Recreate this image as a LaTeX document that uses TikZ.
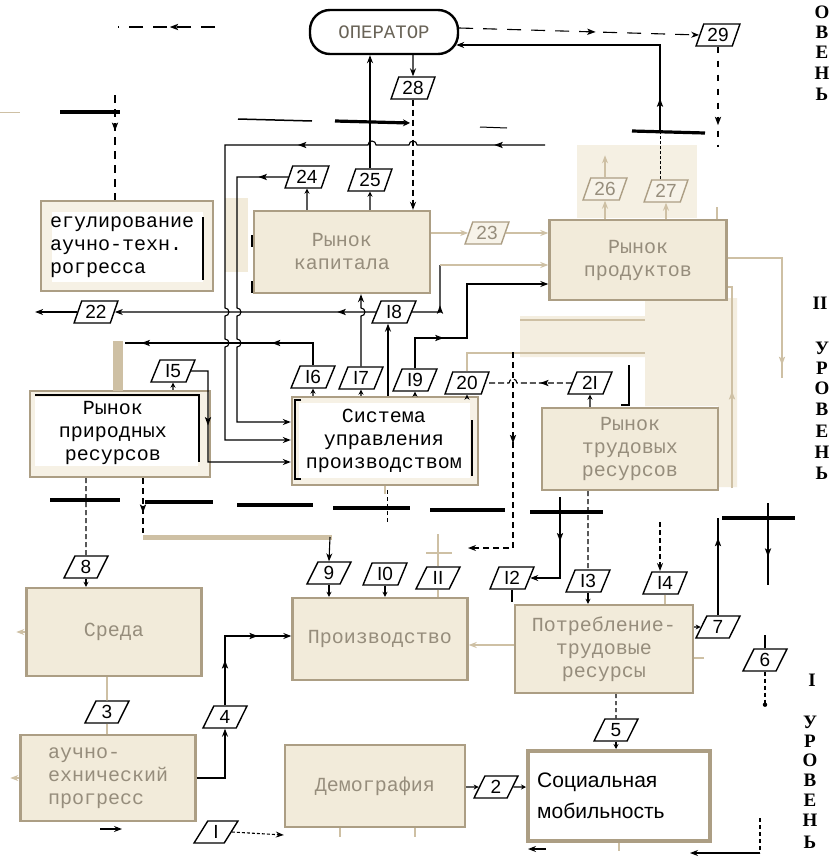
\documentclass[tikz,border=0pt]{standalone}
\usepackage{fontspec}
\setmainfont{Liberation Serif}
\newfontfamily\boxfont{Liberation Mono}
\newfontfamily\numfont{Liberation Sans}
\newfontfamily\sansfont{Liberation Sans}
\usetikzlibrary{shapes.geometric,arrows.meta,decorations.markings}

\definecolor{bg}{RGB}{242,235,218}
\definecolor{bd}{RGB}{172,158,132}
\definecolor{ft}{RGB}{150,141,124}
\definecolor{bl}{RGB}{206,192,164}

\tikzset{
  >={Stealth[length=8pt,width=6pt]},
  sa/.style={-{Stealth[length=5pt,width=5pt]}},
  ln/.style={line width=1.1pt, black},
  bln/.style={line width=1.6pt, bl},
  sepbar/.style={line width=3.2pt, black},
  ma/.style={postaction={decorate,decoration={markings,mark=at position #1 with {\fill[solid] (4.5pt,0pt) -- (-4pt,3.2pt) -- (-2pt,0pt) -- (-4pt,-3.2pt) -- cycle;}}}},
  ma/.default=0.5,
  fbox/.style={draw=bd, fill=bg, line width=2.4pt, font=\boxfont\fontsize{20}{23}\selectfont, text=ft, align=center},
  wtext/.style={font=\boxfont\fontsize{20}{23}\selectfont, text=black, inner sep=0pt},
  lab/.style={trapezium, trapezium left angle=68, trapezium right angle=112, trapezium stretches=true, draw, line width=1.4pt, fill=white, minimum width=44pt, minimum height=22pt, inner sep=1pt, font=\numfont\fontsize{19}{19}\selectfont},
  labf/.style={lab, draw=bd, fill=bg!60, text=ft},
  lvl/.style={font=\bfseries\fontsize{19}{19}\selectfont, inner sep=0pt},
}

\begin{document}
\begin{tikzpicture}[x=1pt,y=-1pt]
\fill[white] (0,0) rectangle (840,860);
\useasboundingbox (0,0) rectangle (840,860);

% helper coordinates
\coordinate (y145) at (0,145);
\coordinate (y258) at (0,258);
\coordinate (y265) at (0,265);
\coordinate (y284) at (0,284);
\coordinate (y287) at (0,287);
\coordinate (y422) at (0,422);
\coordinate (y440) at (0,440);
\coordinate (y462) at (0,462);
\coordinate (y518) at (0,518);
\coordinate (y636) at (0,636);
\coordinate (y645) at (0,645);
\coordinate (y658) at (0,658);
\coordinate (y835) at (0,835);
\coordinate (x143) at (143,0);
\coordinate (x340) at (340,0);
\coordinate (x385) at (385,0);
\coordinate (x388) at (388,0);
\coordinate (x415) at (415,0);
\coordinate (x717) at (717,0);

% beige scan patches
\fill[bg!75] (577,145) rectangle (697,218);
\fill[bg!85] (520,316) -- (645,316) -- (645,298) -- (737,298) -- (737,487) -- (718,487) -- (718,406) -- (645,406) -- (645,357) -- (520,357) -- cycle;
\fill[bg] (225,198) rectangle (248,272);

% ---------- boxes ----------
\node[draw, line width=2.4pt, rounded corners=20pt, minimum width=148pt, minimum height=44pt, fill=white,
      font=\boxfont\fontsize{19}{19}\selectfont, text=ft!70!black] (op) at (384,32) {ОПЕРАТОР};

\node[fbox, fill=bg!70, minimum width=172pt, minimum height=90pt] (reg) at (127,246) {};
\fill[white] (52,212) rectangle (203,282);
\draw[line width=2.6pt] (203,217) -- (203,280);
\node[wtext, anchor=west, align=left] (regt) at (50,247) {егулирование\\аучно-техн.\\рогресса};

\node[fbox, minimum width=176pt, minimum height=82pt] (kap) at (342,252) {Рынок\\капитала};
\node[fbox, minimum width=177pt, minimum height=80pt] (prod) at (638,260) {Рынок\\продуктов};

\node[fbox, fill=bg!70, minimum width=180pt, minimum height=86pt] (prir) at (120,434) {};
\fill[white] (35,397) rectangle (198,466);
\draw[line width=2.6pt] (35,395) -- (199,395) -- (199,462);
\node[wtext, align=center] (prirt) at (113,433) {Рынок\\природных\\ресурсов};

\node[fbox, fill=bg!70, minimum width=186pt, minimum height=88pt] (sys) at (385,441) {};
\fill[white] (299,403) rectangle (470,478);
\draw[line width=2.6pt] (301,400) -- (295,400) -- (295,479) -- (301,479);
\draw[line width=2.6pt] (472,420) -- (472,476);
\node[wtext, align=center] (syst) at (384,441) {Система\\управления\\производством};

\node[fbox, minimum width=176pt, minimum height=82pt] (trud) at (630,449) {Рынок\\трудовых\\ресурсов};

\node[fbox, minimum width=175pt, minimum height=88pt] (sreda) at (114,632) {Среда};
\node[fbox, minimum width=175pt, minimum height=82pt] (proizv) at (380,639) {Производство};
\node[fbox, minimum width=178pt, minimum height=88pt] (potr) at (604,649) {Потребление-\\трудовые\\ресурсы};
\node[fbox, minimum width=175pt, minimum height=86pt] (ntp) at (108,778) {};
\node[wtext, text=ft, anchor=west, align=left] (ntpt) at (48,778) {аучно-\\ехнический\\прогресс};
\node[fbox, minimum width=180pt, minimum height=82pt] (dem) at (375,786) {Демография};

\node[draw=bd, line width=4pt, fill=white, minimum width=182pt, minimum height=90pt] (soc) at (619,796) {};
\node[anchor=west, align=left, font=\sansfont\fontsize{21}{31}\selectfont, inner sep=0pt] (soct) at (537,796) {Социальная\\мобильность};

% ---------- separators ----------
\draw[line width=1pt, bl] (0,112) -- (20,112);
\draw[sepbar] (60,112) -- (120,112);
\draw[line width=1.5pt] (238,119) -- (312,121);
\draw[sepbar, -{Stealth[length=7pt,width=7pt]}] (335,121) -- (410,123);
\draw[line width=1pt] (480,127) -- (507,128);
\draw[sepbar] (632,131) -- (705,133);

\draw[sepbar] (50,500) -- (120,500);
\draw[sepbar] (145,502) -- (213,502);
\draw[sepbar] (237,505) -- (313,505);
\draw[sepbar] (333,508) -- (410,508);
\draw[sepbar] (430,510) -- (505,510);
\draw[sepbar, line width=3.8pt] (530,512) -- (603,512);
\draw[sepbar] (722,518) -- (795,518);

% ---------- labels ----------
\node[lab] (l1) at (216,832) {I};
\node[lab] (l2) at (496,787) {2};
\node[lab] (l3) at (107,712) {3};
\node[lab] (l4) at (225,717) {4};
\node[lab] (l5) at (616,730) {5};
\node[lab] (l6) at (765,660) {6};
\node[lab] (l7) at (718,627) {7};
\node[lab] (l8) at (86,567) {8};
\node[lab] (l9) at (329,573) {9};
\node[lab] (l10) at (385,574) {I0};
\node[lab] (l11) at (438,578) {II};
\node[lab] (l12) at (512,578) {I2};
\node[lab] (l13) at (588,581) {I3};
\node[lab] (l14) at (665,583) {I4};
\node[lab] (l15) at (173,371) {I5};
\node[lab] (l16) at (313,377) {I6};
\node[lab] (l17) at (361,378) {I7};
\node[lab] (l18) at (394,312) {I8};
\node[lab] (l19) at (415,380) {I9};
\node[lab] (l20) at (467,383) {20};
\node[lab] (l21) at (590,383) {2I};
\node[lab] (l22) at (96,312) {22};
\node[labf] (l23) at (487,233) {23};
\node[lab] (l24) at (307,177) {24};
\node[lab] (l25) at (370,180) {25};
\node[labf] (l26) at (605,189) {26};
\node[labf] (l27) at (666,191) {27};
\node[lab] (l28) at (413,88) {28};
\node[lab] (l29) at (718,35) {29};

% ---------- connectors, top ----------
\coordinate (a1) at (215,27);
\coordinate (a2) at (118,27);
\draw[ln, dash pattern=on 14pt off 10pt, ma=0.42] (a1) -- (a2);
\draw[ln, dash pattern=on 14pt off 10pt, ma=0.55, ->] ([yshift=4pt]op.east) -- (l29.west);

\coordinate (b1) at (660,132);
\draw[line width=0.6pt, dash pattern=on 3pt off 2pt] (l27.north -| b1) -- (b1);
\draw[ln, ma=0.1, ->] (b1) -- (660,45) -- ([shift={(-3pt,-13pt)}]op.east);
\draw[ln, dash pattern=on 6pt off 8pt, ma=0.74] (l29.south) -- ++(0,100);

\draw[ln, ->] (l25.north) -- (l25.north |- op.south);
\draw[ln, ->] (op.south -| l28) -- (l28.north);
\draw[ln, dash pattern=on 6pt off 4pt, ->] (l28.south) -- (l28.south |- kap.north);

\coordinate (c1) at (115,95);
\draw[ln, dash pattern=on 8pt off 6pt, ma=0.3] (c1) -- (c1 |- reg.north);

\coordinate (d1) at (545,145);
\draw[ln, ma=0.066, ma=0.36, ->] (d1) -- (417,145) arc[start angle=0,end angle=-180,radius=4]
  -- (376,145) arc[start angle=0,end angle=-180,radius=4]
  -- (225,145) -- (225,308) arc[start angle=-90,end angle=90,radius=4]
  -- (225,339) arc[start angle=-90,end angle=90,radius=4]
  -- (225,440) -- (sys.west |- y440);

\draw[ln, ma=0.07, ->] (l24.west) -- (237,177) -- (237,308) arc[start angle=-90,end angle=90,radius=4]
  -- (237,339) arc[start angle=-90,end angle=90,radius=4]
  -- (237,422) -- (sys.west |- y422);

\draw[ln, ma=0.35, ->] (l15.east) -- (208,371) -- (208,462) -- (sys.west |- y462);
\draw[ln, sa] (prir.north -| l15) -- (l15.south);

\draw[ln, ma=0.28, ma=0.9] (l16.north) |- (125,343);
\draw[line width=10pt, bl] (118,341) -- (118,391);

\foreach \n in {l16,l17,l19,l20} \draw[ln, sa] (sys.north -| \n) -- (\n.south);

\draw[ln, ->] (l17.north) -- (361,316) arc[start angle=90,end angle=-90,radius=4] -- (kap.south -| l17.north);

\draw[ln, ->] (sys.north -| x388) -- (l18.south -| x388);
\draw[ln, ma=0.13, ->] (l18.west) -- (l22.east);
\draw[ln, ->] (l22.west) -- ++(-42,0);

\draw[ln, ma=0.4] (l18.east) -- (440,312) -- (440,265);
\draw[bln, ->] (440,265) -- (prod.west |- y265);

\draw[ln, ma=0.25, ->] (l19.north) |- (467,338) -- (467,284) -- (prod.west |- y284);

\draw[bln] (l20.north) |- (645,353);
\draw[bln] (520,320) -- (645,320);

\draw[ln, sa] (trud.north -| l21) -- (l21.south);
\draw[ln, dash pattern=on 6pt off 3pt, ma=0.3] (l21.west) -- (517,383) arc[start angle=0,end angle=-180,radius=4] -- (l20.east);
\draw[ln, dash pattern=on 6pt off 4pt, ma=0.36, ->] (513,352) -- (513,548) -- (468,548);
\draw[bln] (l11.north) -- ++(0,-32);
\draw[bln] (426,553) -- (452,553);

\draw[line width=2.5pt] (621,405) -- (629,405) -- (629,365);
\draw[line width=2.5pt] (252,235) -- (252,247);
\draw[line width=2.5pt] (252,281) -- (252,293);

\draw[bln, ma=0.9] (prod.east |- y258) -- (782,258) -- (782,378);
\draw[bln, ma=0.45] (732,488) -- (732,287) -- (prod.east |- y287);

\draw[bln, ->] (kap.east |- l23) -- (l23.west);
\draw[bln, ->] (l23.east) -- (prod.west |- l23);
\draw[bln, ->] (prod.north -| l26) -- (l26.south);
\draw[bln, ->] (l26.north) -- ++(0,-22);
\draw[bln, ->] (prod.north -| l27) -- (l27.south);
\draw[bln] (prod.north -| x717) -- ++(0,-12);
\draw[ln, sa] (kap.north -| l24) -- (l24.south);
\draw[ln, sa] (kap.north -| l25) -- (l25.south);

% ---------- connectors, lower ----------
\draw[ln, ma=0.75] (l7.north) -- (l7.north |- y518);
\draw[ln, ma=0.6] (768,503) -- (768,585);
\draw[ln] (l6.north) -- ++(0,-13);
\draw[ln, dash pattern=on 4pt off 3pt] (l6.south) -- ++(0,33) coordinate (e6);
\fill (e6) circle (2.2);

\draw[ln, dash pattern=on 5pt off 3pt] (prir.south -| l8) -- (l8.north);
\draw[ln, sa] (l8.south) -- (l8.south |- sreda.north);

\draw[ln, dash pattern=on 6pt off 4pt, ma=0.55] (prir.south -| x143) -- (143,533);
\draw[line width=5pt, bl] (143,537) -- (332,537);
\draw[ln, ->] (330,537) -- (l9.north);

\draw[bln] (sys.south -| x385) -- ++(0,8);
\draw[line width=0.8pt, dash pattern=on 4pt off 3pt] (387,490) -- (387,522);

\draw[ln, ma=0.36, ->] (560,497) |- (l12.east);
\draw[ln, dash pattern=on 5pt off 3pt] (trud.south -| l13) -- (l13.north);
\draw[ln, sa] (l13.south) -- (l13.south |- potr.north);
\draw[ln, dash pattern=on 5pt off 3pt, ->] (660,522) -- (660,571);
\draw[bln] (l14.south) -- (l14.south |- potr.north);
\draw[ln] (l12.south) -- ++(0,12);

\draw[ln, sa] (l9.south) -- (l9.south |- proizv.north);
\draw[ln, sa] (l10.south) -- (l10.south |- proizv.north);
\draw[bln] (l11.south) -- (l11.south |- proizv.north);

\draw[bln, ->] (potr.west |- y645) -- (proizv.east |- y645);
\draw[ln, sa] (potr.east |- l7) -- (l7.west);
\draw[bln] (potr.east |- y658) -- ++(10,0);

\draw[ln, ma=0.3, ma=0.72, ->] (l4.north) |- (proizv.west |- y636);
\draw[ln, ->] (ntp.east) -| (l4.south);

\draw[bln] (sreda.south -| l3) -- (l3.north);
\draw[bln] (l3.south) -- (l3.south |- ntp.north);
\draw[bln, ->] (sreda.west) -- ++(-9,0);
\draw[bln, ->] (ntp.west) -- ++(-9,0);

\draw[ln, sa] (dem.east |- l2) -- (l2.west);
\draw[ln, sa] (l2.east) -- (soc.west |- l2);

\draw[ln, dash pattern=on 3pt off 2pt, ->] (l1.east) -- (dem.south west |- y835);
\coordinate (f1) at (100,829);
\draw[ln, ->] (f1) -- ++(22,0);

\draw[bln] (dem.south -| x340) -- ++(0,9);
\draw[bln] (dem.south -| x415) -- ++(0,9);

\draw[ln, dash pattern=on 4pt off 3pt] (potr.south -| l5) -- (l5.north);
\draw[ln, sa] (l5.south) -- (l5.south |- soc.north);

\draw[bln] (soc.south) -- ++(0,8);
\coordinate (g1) at (546,849);
\draw[ln, ->] (g1) -- ++(-18,0);
\coordinate (g2) at (760,818);
\draw[ln, dash pattern=on 4pt off 3pt] (g2) -- ++(0,35) coordinate (g3);
\draw[ln, ->] (g3) -- ++(-70,0);

% ---------- level labels ----------
\foreach \t/\yy in {О/12, В/32, Е/52, Н/73, Ь/94}
  \node[lvl] at (822,\yy) {\t};
\node[lvl] at (820,303) {II};
\foreach \t/\yy in {У/348, Р/368, О/388, В/409, Е/431, Н/452, Ь/473}
  \node[lvl] at (822,\yy) {\t};
\node[lvl] at (812,680) {I};
\foreach \t/\yy in {У/722, Р/741, О/760, В/780, Е/800, Н/820, Ь/842}
  \node[lvl] at (810,\yy) {\t};
\end{tikzpicture}
\end{document}
